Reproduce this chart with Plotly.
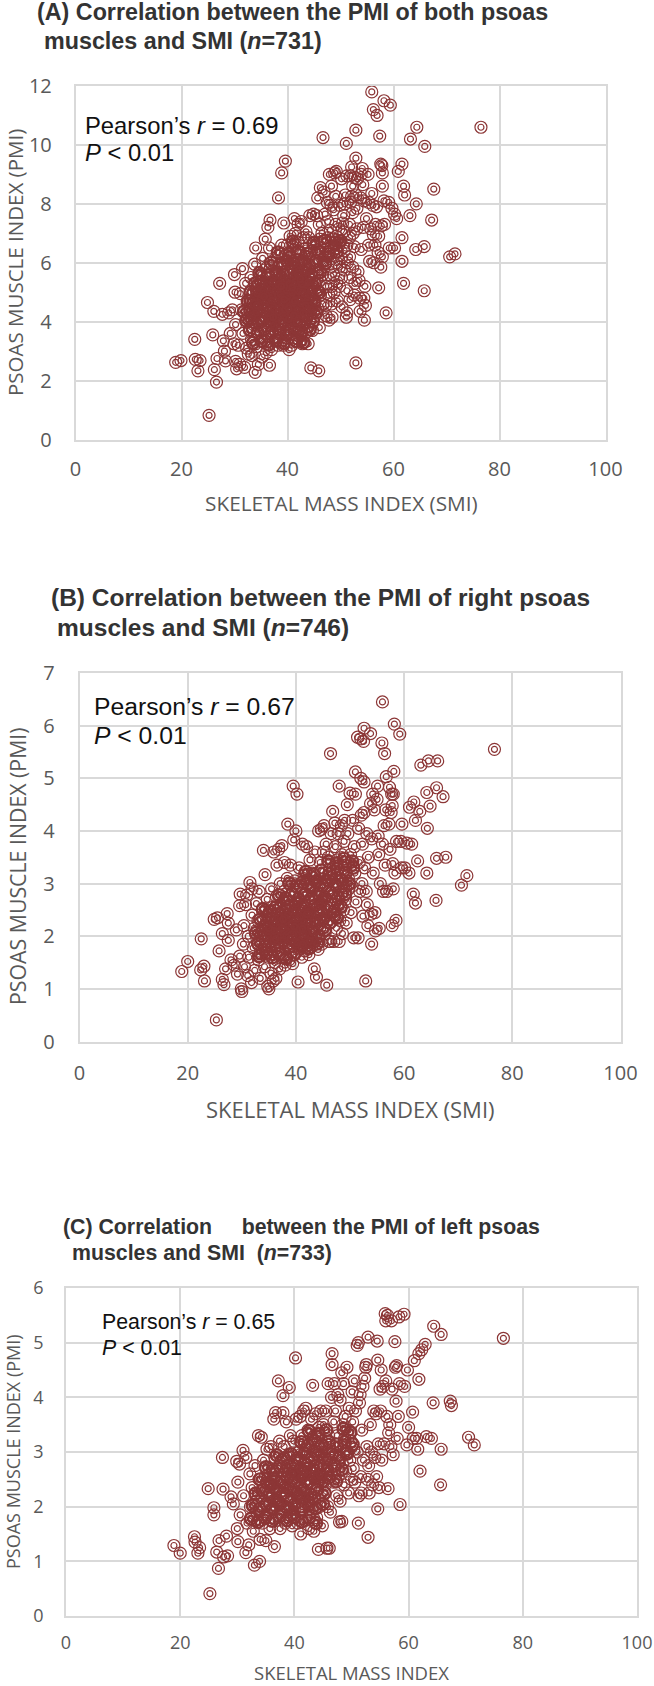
import plotly.graph_objects as go

W, H = 654, 1686
RING = '#8c3636'
GRID = '#d9d9d9'
TICK = '#595959'

# (SMI, PMI)
a_pts = [(18.9,2.62),(19.9,2.68),(22.5,3.4),(22.6,2.72),(23.1,2.33),(23.5,2.68),(24.9,4.65),(25.2,0.82),(25.9,3.55),(26.1,4.35),
 (26.2,2.37),(26.6,1.95),(26.7,2.75),(27.2,5.3),(27.7,4.25),(27.9,3.35),(28.1,3.0),(28.3,2.67),(28.9,4.3),(29.2,3.6),
 (29.6,4.4),(29.9,3.25),(30.2,3.9),(30.0,5.6),(30.1,5.0),(30.2,2.65),(30.4,2.4),(30.7,3.2),(31.1,4.95),(31.0,2.55),
 (31.5,5.8),(31.3,4.4),(31.6,3.6),(31.9,2.45),(32.1,5.3),(32.3,3.1),(32.4,4.1),(32.6,2.9),(32.9,4.7),(33.1,5.5),
 (33.2,3.4),(33.3,2.85),(33.6,3.9),(33.9,2.28),(34.0,6.5),(33.8,5.95),(34.1,5.1),(34.3,4.4),(34.2,3.15),(34.5,2.55),
 (34.7,4.9),(34.8,3.7),(35.0,5.6),(35.1,4.1),(35.2,2.8),(35.3,6.15),(35.5,3.3),(35.6,5.2),(35.8,6.8),(35.9,4.55),
 (36.0,3.85),(36.0,2.95),(36.2,5.85),(36.3,7.2),(36.4,4.95),(36.4,3.5),(36.6,6.5),(36.6,2.52),(36.7,7.45),(36.8,5.35),
 (36.9,4.2),(37.0,3.05),(37.1,5.7),(37.2,4.65),(37.3,3.75),(37.5,6.1),(37.5,5.3),(37.6,4.8),(37.6,4.0),(37.7,3.4),
 (38.3,8.2),(38.9,6.6),(38.0,5.6),(38.0,5.0),(38.1,4.4),(38.1,3.8),(38.2,3.2),(38.5,5.9),(38.5,5.15),(38.6,4.6),
 (38.6,4.1),(38.7,3.55),(38.9,9.05),(39.3,7.35),(39.0,6.3),(39.0,5.45),(39.1,4.85),(39.1,4.3),(39.2,3.7),(39.2,3.2),
 (39.6,9.45),(39.5,6.0),(39.6,5.2),(39.6,4.5),(39.7,3.95),(39.7,3.45),(40.0,6.6),(40.0,5.65),(40.1,5.0),(40.1,4.65),
 (40.2,4.15),(40.2,3.6),(40.3,3.05),(40.5,6.9),(40.5,6.2),(40.6,5.4),(40.6,4.8),(40.7,4.3),(40.7,3.85),(40.8,3.2),
 (41.3,7.5),(41.0,6.55),(41.0,5.85),(41.1,5.25),(41.1,4.6),(41.2,4.05),(41.2,3.45),(41.5,7.0),(41.5,6.1),(41.6,5.55),
 (41.6,4.95),(41.7,4.4),(41.7,3.75),(42.0,7.3),(42.0,6.7),(42.1,5.9),(42.1,5.2),(42.2,4.7),(42.2,4.15),(42.3,3.5),
 (42.6,7.4),(42.5,6.35),(42.6,5.6),(42.6,5.0),(42.7,4.5),(42.7,3.9),(42.8,3.25),(43.0,6.85),(43.1,6.05),(43.1,5.3),
 (43.2,4.75),(43.2,4.2),(43.3,3.6),(43.5,7.05),(43.5,6.5),(43.6,5.75),(43.6,5.05),(43.7,4.4),(43.7,3.85),(44.2,7.6),
 (44.0,6.85),(44.0,6.2),(44.1,5.45),(44.1,4.8),(44.2,4.1),(43.9,3.25),(44.4,2.43),(44.9,7.65),(44.5,6.4),(44.6,5.7),
 (44.6,5.15),(44.7,4.55),(44.7,3.7),(45.0,6.7),(45.1,6.0),(45.1,5.3),(45.2,4.7),(45.2,4.2),(45.5,7.6),(45.6,6.45),
 (45.6,5.75),(45.7,5.05),(45.7,4.45),(45.7,8.2),(46.2,8.55),(46.0,7.3),(46.1,6.8),(46.1,6.1),(46.2,5.4),(46.2,4.9),
 (46.0,3.8),(45.9,2.33),(46.5,7.0),(46.6,6.3),(46.6,5.6),(46.7,4.6),(46.7,10.25),(46.9,8.4),(47.1,7.65),(47.0,6.75),
 (47.1,6.0),(47.2,5.2),(47.2,4.55),(47.3,4.2),(47.9,9.0),(47.5,8.05),(47.6,7.4),(47.6,6.85),(47.7,6.2),(47.7,5.5),
 (47.8,4.9),(47.8,4.05),(48.3,8.6),(48.2,7.95),(48.1,7.1),(48.2,6.5),(48.2,5.85),(48.3,5.2),(48.3,4.6),(48.4,4.15),
 (48.9,9.05),(48.7,7.8),(48.6,6.8),(48.7,6.25),(48.7,5.6),(48.8,5.0),(49.2,9.1),(49.1,8.25),(49.1,7.3),(49.2,6.9),
 (49.2,6.5),(49.3,6.0),(49.3,5.35),(49.4,4.7),(49.9,7.95),(49.7,7.15),(49.7,6.6),(49.8,5.85),(49.8,5.2),(50.2,8.85),
 (50.4,7.35),(50.1,6.75),(50.2,6.15),(50.2,5.5),(50.3,4.5),(50.9,8.3),(50.6,7.6),(50.6,7.05),(50.7,6.4),(50.7,5.75),
 (51.2,8.95),(50.8,8.0),(51.7,7.3),(51.2,6.6),(51.3,6.0),(51.2,5.05),(51.2,4.3),(51.1,4.15),(51.1,10.05),(52.3,7.7),
 (51.7,6.85),(51.7,6.2),(51.8,5.5),(51.8,4.75),(52.9,10.5),(52.9,9.55),(52.1,9.25),(51.9,8.95),(52.7,8.9),(53.2,8.85),
 (52.3,8.6),(52.1,8.25),(52.9,8.3),(51.9,8.05),(53.1,7.85),(52.4,7.0),(52.6,6.55),(52.3,5.85),(52.7,5.3),(52.6,4.9),
 (52.9,2.6),(53.9,9.0),(54.1,9.2),(54.2,8.65),(53.8,8.2),(54.4,8.1),(54.9,7.5),(53.1,7.15),(54.3,7.2),(53.9,6.45),
 (53.3,5.7),(53.5,5.4),(53.6,4.8),(53.7,4.35),(54.7,4.55),(54.6,5.2),(54.4,4.8),(54.5,4.05),(55.2,9.0),(55.3,8.05),
 (55.9,8.35),(55.7,7.15),(55.3,6.6),(55.5,6.05),(56.1,7.95),(56.6,7.3),(56.5,6.6),(56.2,6.95),(56.3,6.0),(57.2,6.9),
 (57.1,6.35),(57.2,5.15),(57.6,5.85),(57.7,7.25),(57.9,6.2),(57.9,8.6),(57.6,9.35),(57.8,9.3),(57.9,9.05),(56.8,7.9),
 (58.2,8.1),(58.6,4.3),(58.3,7.3),(59.1,8.05),(59.7,7.85),(60.2,7.65),(60.6,7.5),(59.2,6.5),(60.2,6.5),(60.9,9.1),
 (61.6,9.35),(61.9,8.6),(62.1,8.3),(61.6,6.85),(61.6,6.05),(61.9,5.3),(63.1,7.6),(63.2,10.2),(64.3,8.0),(64.4,10.6),
 (64.2,6.45),(65.8,6.55),(65.8,5.05),(65.9,9.95),(67.2,7.45),(67.6,8.5),(70.6,6.2),(71.6,6.3),(76.5,10.6),(55.9,11.8),
 (56.2,11.2),(56.9,11.0),(58.2,11.5),(59.4,11.35),(57.4,10.3)]

# the solid part of the cloud in panel A
a_core = [(33.5,3.28),(35.1,3.35),(36.4,3.22),(37.9,3.36),(39.3,3.27),(41.6,3.34),(43.0,3.3),(32.9,3.72),(34.4,3.63),(35.7,3.75),
 (37.1,3.66),(38.4,3.74),(39.9,3.62),(41.4,3.7),(42.5,3.64),(44.2,3.73),(32.2,4.03),(33.3,4.1),(34.6,3.98),(35.4,4.08),
 (36.7,4.0),(37.8,4.12),(38.9,4.02),(40.3,4.09),(41.7,3.99),(43.5,4.07),(44.8,4.01),(31.8,4.34),(33.0,4.4),(34.1,4.3),
 (35.2,4.38),(36.3,4.29),(37.4,4.42),(38.3,4.33),(39.5,4.4),(40.6,4.28),(41.9,4.37),(43.0,4.3),(44.4,4.41),(45.5,4.32),
 (32.5,4.7),(33.6,4.64),(34.9,4.75),(36.0,4.66),(37.0,4.72),(38.1,4.63),(39.2,4.74),(40.3,4.67),(41.4,4.71),(42.6,4.62),
 (43.8,4.73),(45.0,4.65),(33.0,5.0),(34.3,4.96),(35.4,5.06),(36.5,4.97),(37.7,5.04),(38.7,4.94),(39.8,5.07),(40.9,4.98),
 (42.1,5.03),(43.2,4.95),(44.4,5.05),(46.0,4.99),(33.9,5.3),(35.0,5.36),(36.1,5.26),(37.2,5.33),(38.3,5.25),(39.4,5.38),
 (40.4,5.29),(41.5,5.35),(42.7,5.27),(43.9,5.34),(45.2,5.28),(34.7,5.65),(36.3,5.58),(37.9,5.68),(39.1,5.6),(40.7,5.7),
 (41.9,5.62),(43.1,5.66),(44.5,5.59),(46.1,5.67),(36.9,6.0),(38.6,5.94),(40.0,6.04),(41.2,5.96),(42.6,6.02),(44.0,5.93),
 (45.4,6.05),(47.1,5.97),(38.2,6.35),(40.3,6.28),(42.0,6.38),(43.7,6.3),(45.8,6.36),(47.7,6.29),(49.3,6.37),(41.0,6.72),
 (44.9,6.66),(47.0,6.74),(48.9,6.68),(49.9,6.73),(34.2,4.55),(35.6,4.85),(37.3,4.15),(38.8,5.2),(40.2,4.45),(41.2,4.2),
 (42.4,5.45),(43.4,4.55),(39.4,4.75),(40.9,5.15)]

# (SMI, PMI)
b_pts = [(18.9,1.33),(20.0,1.52),(22.5,1.95),(22.4,1.36),(23.0,1.43),(23.1,1.15),(24.9,2.32),(25.3,0.41),(25.5,2.35),(25.8,1.72),
 (26.4,2.05),(26.4,1.18),(26.7,1.08),(27.0,1.38),(27.3,2.43),(27.5,2.25),(27.5,1.92),(28.0,1.55),(28.6,1.45),(29.0,2.12),
 (29.2,1.28),(29.6,1.62),(29.6,2.58),(29.7,2.8),(29.9,1.0),(30.0,0.95),(30.3,1.85),(30.4,2.2),(30.5,1.42),(30.7,2.6),
 (30.9,2.78),(31.1,1.25),(31.2,2.0),(31.3,1.6),(31.5,3.02),(31.8,1.12),(31.9,2.4),(31.9,2.9),(32.1,1.78),(32.3,2.15),
 (32.4,1.35),(32.7,2.62),(32.8,1.95),(33.0,2.3),(33.1,1.55),(33.2,2.85),(33.4,1.2),(33.6,2.05),(33.8,2.5),(33.9,1.75),
 (34.0,3.63),(34.2,1.42),(34.3,3.17),(34.4,2.2),(34.6,1.9),(34.7,2.7),(34.8,1.05),(34.9,1.6),(35.0,1.0),(35.1,2.35),
 (35.2,2.1),(35.4,1.3),(35.5,2.9),(35.6,1.8),(35.7,2.55),(35.8,1.15),(35.9,3.6),(36.0,2.25),(36.1,1.5),(36.2,1.98),
 (36.3,1.2),(36.4,2.75),(36.5,3.35),(36.6,2.42),(36.7,1.72),(36.8,3.65),(36.9,2.12),(37.0,1.38),(37.1,3.0),(37.2,1.88),
 (37.3,2.6),(37.4,3.72),(37.5,2.3),(37.6,1.6),(37.7,2.05),(37.8,2.85),(37.9,3.4),(38.0,1.45),(38.1,2.48),(38.2,1.82),
 (38.3,2.2),(38.4,3.1),(38.5,4.13),(38.6,2.65),(38.7,1.55),(38.8,2.0),(38.9,2.35),(39.0,3.35),(39.1,1.75),(39.2,2.8),
 (39.3,2.15),(39.4,1.48),(39.5,4.85),(39.6,2.55),(39.6,3.83),(39.7,1.95),(39.8,3.05),(39.9,2.3),(40.0,4.0),(40.1,1.7),
 (40.2,4.7),(40.3,2.7),(40.4,1.13),(40.5,2.1),(40.6,3.3),(40.7,2.45),(40.8,1.85),(40.9,2.95),(41.0,2.25),(41.1,1.6),
 (41.2,3.75),(41.3,2.6),(41.4,2.0),(41.5,3.15),(41.6,1.72),(41.7,2.4),(41.8,2.8),(41.9,2.15),(42.0,3.7),(42.1,1.9),
 (42.2,3.0),(42.3,2.5),(42.4,1.65),(42.5,2.28),(42.6,3.45),(42.7,2.05),(42.8,2.72),(42.9,1.8),(43.0,3.2),(43.1,2.4),
 (43.2,2.9),(43.3,2.1),(43.4,1.38),(43.5,3.6),(43.6,2.6),(43.7,1.95),(43.8,1.22),(43.9,2.3),(44.0,3.05),(44.1,1.75),
 (44.2,4.0),(44.3,2.8),(44.4,2.15),(44.5,3.4),(44.6,2.5),(44.7,4.03),(44.8,1.85),(44.9,2.95),(45.0,2.3),(45.1,3.6),
 (45.2,4.1),(45.3,2.7),(45.4,2.05),(45.5,3.2),(45.6,3.75),(45.7,1.07),(45.8,2.45),(45.9,2.9),(46.0,3.5),(46.1,1.9),
 (46.2,2.25),(46.4,5.47),(46.4,1.9),(46.5,3.95),(46.6,2.75),(46.8,4.37),(46.9,3.3),(47.0,1.9),(47.1,2.4),(47.2,4.15),
 (47.3,3.7),(47.4,2.95),(47.5,2.15),(47.6,3.45),(47.7,2.6),(47.8,3.95),(48.0,4.85),(48.0,1.9),(48.1,2.3),(48.2,3.2),
 (48.3,2.8),(48.4,4.1),(48.5,3.55),(48.6,2.05),(48.7,3.0),(48.8,2.5),(48.9,3.8),(49.0,4.2),(49.1,3.35),(49.2,2.7),
 (49.3,2.25),(49.5,4.5),(49.6,3.95),(49.7,3.1),(49.8,2.9),(50.0,4.72),(50.1,3.55),(50.2,2.45),(50.4,2.95),(50.5,4.2),
 (50.7,1.97),(50.8,3.7),(50.9,3.2),(51.0,4.7),(51.0,5.12),(51.1,2.65),(51.4,5.78),(51.5,1.97),(51.6,4.05),(51.7,3.4),
 (51.8,2.85),(52.0,5.75),(52.0,5.0),(52.1,4.3),(52.2,3.0),(52.3,3.75),(52.4,2.38),(52.5,5.7),(52.6,5.95),(52.6,4.93),
 (52.6,4.35),(52.7,3.3),(52.9,1.15),(53.0,2.85),(53.1,3.95),(53.2,2.6),(53.3,2.2),(53.4,3.5),(53.8,5.85),(53.8,4.52),
 (53.9,2.42),(54.0,1.85),(54.0,3.85),(54.2,4.7),(54.3,3.2),(54.5,4.4),(54.6,2.45),(54.7,2.1),(55.0,4.6),(55.1,4.85),
 (55.2,3.9),(55.3,3.55),(55.4,2.15),(55.6,3.0),(55.9,5.67),(56.0,6.45),(56.0,3.75),(56.2,2.85),(56.3,4.1),(56.4,5.47),
 (56.5,3.35),(56.6,4.4),(56.7,5.03),(56.8,2.85),(57.2,4.13),(57.3,4.83),(57.4,3.65),(57.6,4.35),(57.7,4.7),(57.8,2.2),
 (57.8,4.48),(57.9,3.38),(58.0,4.7),(58.0,2.9),(58.1,5.13),(58.2,6.03),(58.3,3.2),(58.5,2.3),(58.6,3.8),(59.2,5.84),
 (59.4,3.8),(59.5,3.3),(59.6,4.13),(60.1,3.3),(60.5,3.77),(60.9,3.2),(61.0,4.45),(61.4,3.75),(61.7,2.8),(61.8,4.55),
 (62.1,2.63),(62.1,4.2),(62.5,3.43),(62.9,4.37),(63.1,5.25),(64.2,3.2),(64.2,4.73),(64.3,4.05),(64.5,5.33),(64.8,4.47),
 (65.9,2.68),(66.0,3.48),(66.0,4.82),(66.2,5.33),(67.2,4.65),(67.7,3.5),(70.6,2.97),(71.6,3.15),(76.7,5.55)]

# the solid part of the cloud in panel B
b_core = [(33.2,1.62),(34.5,1.68),(35.7,1.6),(36.9,1.66),(38.2,1.58),(39.6,1.65),(41.0,1.8),(42.4,1.77),(33.0,1.86),(34.2,1.8),
 (35.3,1.9),(36.5,1.83),(37.7,1.92),(38.9,1.81),(40.1,1.89),(41.3,1.84),(42.6,1.91),(43.9,1.86),(32.6,2.06),(33.8,2.12),
 (34.9,2.03),(36.0,2.1),(37.2,2.02),(38.3,2.09),(39.5,2.05),(40.7,2.12),(41.8,2.03),(43.0,2.08),(44.2,2.0),(45.4,2.12),
 (33.4,2.32),(34.6,2.25),(35.7,2.34),(36.9,2.27),(38.0,2.35),(39.2,2.24),(40.3,2.33),(41.5,2.26),(42.7,2.36),(43.9,2.27),
 (45.1,2.34),(46.3,2.26),(47.6,2.35),(33.9,2.52),(35.2,2.47),(36.3,2.55),(37.5,2.46),(38.6,2.56),(39.8,2.48),(41.0,2.54),
 (42.2,2.46),(43.4,2.57),(44.6,2.47),(45.8,2.55),(47.1,2.48),(48.3,2.56),(36.9,2.78),(38.1,2.72),(39.3,2.8),(40.5,2.71),
 (41.7,2.79),(42.9,2.73),(44.1,2.81),(45.3,2.74),(46.5,2.82),(47.8,2.73),(49.1,2.8),(38.8,3.0),(40.1,2.95),(41.3,3.03),
 (42.5,2.96),(43.7,3.04),(44.9,2.97),(46.1,3.05),(47.3,2.98),(48.5,3.06),(49.8,3.0),(41.8,3.22),(43.3,3.17),(44.7,3.25),
 (46.3,3.18),(47.7,3.27),(49.2,3.2),(50.6,3.3),(46.0,3.42),(47.5,3.38),(48.9,3.47),(50.4,3.42),(37.4,2.15),(38.5,2.4),
 (39.7,2.18),(40.8,2.38),(36.3,1.95),(37.6,2.32),(41.2,2.14),(42.0,2.42),(39.0,1.95),(35.0,2.15),(44.5,2.62),(40.0,2.62)]

# (SMI, PMI)
c_pts = [(18.9,1.29),(20.0,1.15),(22.5,1.45),(22.6,1.35),(23.1,1.15),(23.4,1.25),(24.9,2.33),(25.2,0.41),(25.9,1.98),(25.9,1.85),
 (26.4,1.17),(26.7,0.87),(26.8,1.38),(27.4,2.9),(27.5,2.32),(27.6,1.08),(28.1,1.46),(28.3,1.1),(28.9,2.18),(29.3,2.05),
 (29.9,2.83),(30.0,1.6),(30.1,2.45),(30.1,1.36),(30.4,2.78),(30.5,1.85),(31.0,3.03),(31.1,2.2),(31.5,1.16),(31.5,2.9),
 (31.7,1.7),(32.0,1.3),(32.2,2.6),(32.3,2.0),(32.6,2.35),(32.8,1.55),(33.0,0.93),(33.1,2.75),(33.3,2.1),(33.5,1.85),
 (33.7,3.3),(33.8,2.5),(33.9,1.0),(34.0,1.4),(34.2,3.27),(34.3,2.2),(34.4,1.7),(34.6,2.85),(34.7,2.0),(34.9,2.55),
 (35.0,1.38),(35.2,3.05),(35.3,1.85),(35.5,2.3),(35.6,2.7),(35.7,1.6),(35.9,3.1),(36.0,2.15),(36.1,1.95),(36.3,2.5),
 (36.4,3.6),(36.5,1.27),(36.6,2.9),(36.7,3.72),(36.8,1.75),(36.9,2.3),(37.0,2.65),(37.2,4.3),(37.3,2.05),(37.4,3.2),
 (37.5,1.6),(37.6,2.45),(37.7,2.85),(37.8,1.9),(38.0,4.03),(38.0,3.72),(38.1,2.2),(38.2,3.1),(38.3,2.6),(38.4,1.7),
 (38.5,2.0),(38.6,3.55),(38.7,2.75),(38.8,2.35),(39.0,2.95),(39.1,4.18),(39.2,1.85),(39.3,3.3),(39.4,2.5),(39.5,2.15),
 (39.6,1.65),(39.7,2.7),(39.9,3.2),(40.0,2.3),(40.1,1.95),(40.2,4.72),(40.3,3.6),(40.4,2.55),(40.5,2.85),(40.6,1.7),
 (40.7,2.1),(40.8,3.0),(40.9,2.4),(41.0,3.65),(41.1,1.5),(41.2,2.7),(41.3,3.3),(41.4,2.0),(41.5,2.55),(41.6,3.75),
 (41.7,2.25),(41.8,1.75),(41.9,3.05),(42.0,3.8),(42.1,2.85),(42.2,2.45),(42.3,2.1),(42.4,3.4),(42.5,1.6),(42.6,2.7),
 (42.7,3.15),(42.8,1.9),(42.9,2.3),(43.0,3.6),(43.2,4.22),(43.2,2.95),(43.3,2.55),(43.4,1.55),(43.5,3.3),(43.6,2.15),
 (43.7,3.7),(43.8,2.75),(43.9,1.8),(44.0,3.05),(44.1,2.4),(44.2,1.22),(44.3,3.45),(44.4,2.0),(44.5,2.85),(44.6,3.75),
 (44.7,2.55),(44.8,3.15),(44.9,1.65),(45.0,2.2),(45.1,3.5),(45.2,2.75),(45.3,3.0),(45.4,2.4),(45.5,3.75),(45.7,1.24),
 (45.8,2.0),(45.9,4.25),(45.9,2.6),(46.0,3.3),(46.1,1.24),(46.2,2.85),(46.3,1.9),(46.5,4.0),(46.6,4.8),(46.6,4.6),
 (46.7,3.1),(46.8,2.45),(46.9,3.55),(47.0,4.25),(47.1,2.7),(47.2,3.75),(47.3,2.95),(47.4,2.2),(47.5,3.3),(47.6,4.05),
 (47.7,2.55),(47.9,1.72),(48.0,2.1),(48.0,3.95),(48.1,3.1),(48.3,1.73),(48.3,4.45),(48.4,2.8),(48.5,3.5),(48.6,4.25),
 (48.7,2.4),(48.8,3.25),(48.9,3.65),(49.0,2.65),(49.2,4.55),(49.3,3.0),(49.4,3.4),(49.5,2.25),(49.6,3.8),(49.7,2.85),
 (49.9,3.2),(50.0,2.5),(50.1,4.1),(50.2,3.55),(50.3,2.7),(50.4,3.05),(50.5,4.3),(50.6,2.45),(50.7,3.75),(51.0,4.95),
 (51.0,3.0),(51.2,5.0),(51.2,1.7),(51.3,2.2),(51.4,3.9),(51.5,4.05),(51.6,2.55),(51.7,2.25),(51.8,3.4),(52.0,4.2),
 (52.1,2.85),(52.3,4.35),(52.5,4.55),(52.6,4.6),(52.7,3.1),(52.8,2.5),(52.9,1.44),(52.9,5.1),(53.0,2.75),(53.1,2.25),
 (53.3,3.5),(53.5,3.0),(53.7,2.4),(53.9,3.75),(54.1,2.9),(54.3,3.7),(54.4,2.55),(54.5,5.03),(54.6,4.68),(54.6,1.96),
 (54.7,3.15),(54.8,2.35),(55.0,4.15),(55.1,3.75),(55.2,4.5),(55.3,2.85),(55.5,4.2),(55.7,3.15),(55.9,5.53),(56.0,5.4),
 (56.0,4.3),(56.2,3.65),(56.3,5.5),(56.4,2.33),(56.5,3.35),(56.7,3.5),(56.9,3.1),(57.0,5.4),(57.1,4.15),(57.3,2.95),
 (57.6,5.02),(57.7,4.55),(57.8,3.93),(57.9,4.58),(58.0,3.25),(58.2,3.65),(58.3,5.47),(58.4,4.25),(58.5,2.04),(59.2,5.52),
 (59.3,4.2),(59.7,3.13),(59.8,4.5),(60.0,3.45),(60.7,3.73),(60.8,3.25),(61.0,4.67),(61.4,3.25),(61.6,3.05),(61.8,4.8),
 (61.8,4.33),(62.0,2.65),(62.3,4.87),(62.9,4.97),(63.1,3.28),(64.0,3.25),(64.3,3.9),(64.4,5.3),(65.6,2.4),(65.7,3.05),
 (65.7,5.15),(67.3,3.93),(67.5,3.85),(70.5,3.27),(71.5,3.13),(76.6,5.08)]

# the solid part of the cloud in panel C
c_core = [(32.4,1.78),(33.6,1.72),(34.9,1.8),(36.1,1.74),(37.4,1.82),(38.7,1.75),(40.0,1.81),(41.3,1.73),(42.6,1.8),(43.8,1.7),
 (32.7,2.02),(33.9,1.96),(35.1,2.05),(36.3,1.98),(37.5,2.06),(38.8,1.97),(40.0,2.04),(41.2,1.95),(42.5,2.03),(43.7,1.97),
 (45.0,2.05),(33.2,2.24),(34.4,2.3),(35.6,2.22),(36.8,2.31),(38.0,2.24),(39.2,2.32),(40.4,2.23),(41.6,2.3),(42.8,2.22),
 (44.0,2.31),(45.3,2.25),(34.0,2.5),(35.2,2.44),(36.4,2.52),(37.6,2.45),(38.8,2.53),(40.0,2.46),(41.2,2.54),(42.4,2.45),
 (43.6,2.52),(44.8,2.46),(46.0,2.53),(47.3,2.46),(35.0,2.72),(36.2,2.66),(37.4,2.74),(38.6,2.67),(39.8,2.75),(41.0,2.68),
 (42.2,2.76),(43.4,2.67),(44.6,2.74),(45.8,2.67),(47.0,2.75),(48.3,2.68),(36.9,2.94),(38.2,2.88),(39.4,2.96),(40.6,2.89),
 (41.8,2.97),(43.0,2.88),(44.2,2.95),(45.4,2.88),(46.6,2.96),(47.9,2.89),(49.2,2.97),(41.2,3.18),(42.4,3.12),(43.6,3.2),
 (44.8,3.12),(46.0,3.19),(47.4,3.14),(48.8,3.18),(50.2,3.14),(42.6,3.38),(44.2,3.33),(45.6,3.4),(48.6,3.42),(49.8,3.36),
 (37.0,2.1),(38.3,2.36),(39.6,2.6),(40.8,2.2),(36.0,2.4),(41.8,2.62),(43.0,2.12),(44.4,2.58)]

# pixel boxes: left, right, top, bottom
panels = [
    dict(pts=a_pts, core=a_core, box=(75.5, 605.5, 86, 439.5), ymax=12, dy=2, ygap=18, xgap=11, tick=20,
         t1=('(A) Correlation between the PMI of both psoas', 37, 12), t2=('muscles and SMI (<i>n</i>=731)', 43.5, 41), tsize=23.3,
         note=('Pearson’s <i>r</i> = 0.69', '<i>P</i> < 0.01', 85, 125, 153, 23.8),
         xtitle=('SKELETAL MASS INDEX (SMI)', 341, 503, 20.8), ytitle=(15, 263, 20.5)),
    dict(pts=b_pts, core=b_core, box=(79.5, 620.5, 673, 1041.5), ymax=7, dy=1, ygap=19, xgap=13, tick=20,
         t1=('(B) Correlation between the PMI of right psoas', 51, 597), t2=('muscles and SMI (<i>n</i>=746)', 56.5, 627), tsize=24.5,
         note=('Pearson’s <i>r</i> = 0.67', '<i>P</i> < 0.01', 94, 706, 736, 24.7),
         xtitle=('SKELETAL MASS INDEX (SMI)', 350, 1109, 22), ytitle=(17, 866, 21.3)),
    dict(pts=c_pts, core=c_core, box=(66, 637, 1288, 1616), ymax=6, dy=1, ygap=17, xgap=10, tick=18,
         t1=('(C) Correlation\u00a0\u00a0\u00a0\u00a0 between the PMI of left psoas', 63, 1227), t2=('muscles and SMI\u00a0 (<i>n</i>=733)', 72, 1253), tsize=21.3,
         note=('Pearson’s <i>r</i> = 0.65', '<i>P</i> < 0.01', 102, 1322, 1348, 21.3),
         xtitle=('SKELETAL MASS INDEX', 351, 1672, 18.5), ytitle=(13, 1452, 18)),
]


def px(x):
    return x / W


def py(y):
    return 1 - y / H


def label(text, x, y, size, family, color, anchor='left', angle=0):
    if anchor == 'left':
        x -= 2  # annotation box padding
    return dict(text=text, x=px(x), y=py(y), xref='paper', yref='paper', xanchor=anchor, yanchor='middle', textangle=angle,
                showarrow=False, font=dict(family=family, size=size, color=color))


def add_rings(fig, pts, n, line_width):
    xs = [q[0] for q in pts]
    ys = [q[1] for q in pts]
    for size in (12, 6):
        fig.add_trace(go.Scatter(x=xs, y=ys, mode='markers', xaxis='x' + n, yaxis='y' + n, showlegend=False,
                                 marker=dict(symbol='circle-open', size=size, color=RING, line=dict(width=line_width, color=RING))))


fig = go.Figure()
notes = []
for i, p in enumerate(panels):
    n = '' if i == 0 else str(i + 1)
    l, r, t, b = p['box']
    add_rings(fig, p['pts'], n, 1.2)
    # heavier rings here so that the middle of the cloud closes up
    add_rings(fig, p['core'], n, 2.4)
    axis = dict(showgrid=True, gridcolor=GRID, gridwidth=1.5, showline=True, linecolor=GRID, linewidth=1.5, mirror=True,
                automargin=False, zeroline=False, ticks='', tickfont=dict(family='Open Sans', size=p['tick'], color=TICK))
    fig.update_layout({
        'xaxis' + n: dict(axis, domain=[px(l), px(r)], range=[0, 100], dtick=20, anchor='y' + n, ticklabelstandoff=p['xgap']),
        'yaxis' + n: dict(axis, domain=[py(b), py(t)], range=[0, p['ymax']], dtick=p['dy'], anchor='x' + n, ticklabelstandoff=p['ygap']),
    })
    for txt, x, y in (p['t1'], p['t2']):
        notes.append(label('<b>%s</b>' % txt, x, y, p['tsize'], 'Liberation Sans', '#333333'))
    s1, s2, x, y1, y2, fs = p['note']
    notes.append(label(s1, x, y1, fs, 'Liberation Sans', '#111111'))
    notes.append(label(s2, x, y2, fs, 'Liberation Sans', '#111111'))
    txt, x, y, fs = p['xtitle']
    notes.append(label(txt, x, y, fs, 'Open Sans', TICK, 'center'))
    x, y, fs = p['ytitle']
    notes.append(label('PSOAS MUSCLE INDEX (PMI)', x, y, fs, 'Open Sans', TICK, 'center', -90))

# no layout width/height: the div below fills the page, and sits at 0,0 past the body margin
fig.update_layout(autosize=True, margin=dict(l=0, r=0, t=0, b=0), paper_bgcolor='white', plot_bgcolor='white', annotations=notes)
fig.write_html("out.html", config=dict(displayModeBar=False), default_width='654px',
               default_height='1686px; position:absolute; top:0; left:0')
